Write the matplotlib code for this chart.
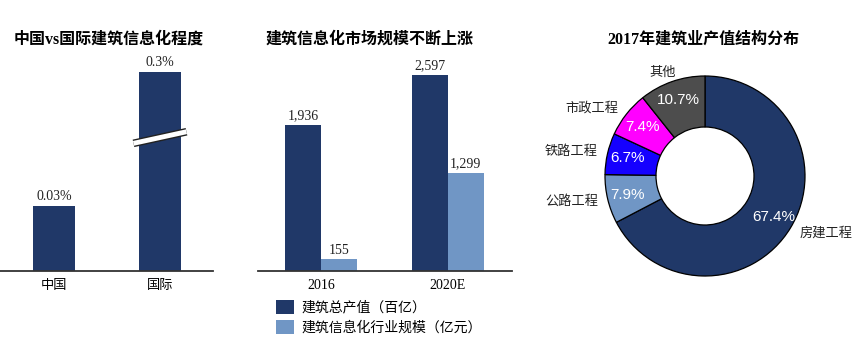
import numpy as np
import matplotlib
matplotlib.use("Agg")
import matplotlib.pyplot as plt

# ---- data ----
level_cats = ["中国", "国际"]
level_vals = [0.03, 0.3]              # % 建筑信息化程度

market_years = ["2016", "2020E"]
output_vals = [1936, 2597]            # 建筑总产值（百亿）
it_vals = [155, 1299]                 # 建筑信息化行业规模（亿元）
market_names = ["建筑总产值（百亿）", "建筑信息化行业规模（亿元）"]

pie_names = ["房建工程", "公路工程", "铁路工程", "市政工程", "其他"]
pie_vals = [67.4, 7.9, 6.7, 7.4, 10.7]

NAVY = "#203868"
LIGHT = "#7096c5"
pie_colors = [NAVY, LIGHT, "#1500ff", "#ff00ff", "#4d4d4d"]

CJK = ["Noto Sans CJK SC", "DejaVu Sans"]
TITLE_FONT = ["Liberation Serif", "Noto Sans CJK SC"]
NUM_FONT = "Liberation Serif"
plt.rcParams["font.family"] = CJK

W, H = 864, 352
fig = plt.figure(figsize=(W / 100, H / 100), dpi=100)


def px_axes(left, top, width, height):
    return fig.add_axes([left / W, (H - top - height) / H, width / W, height / H])


# ---- panel 1: broken bar chart ----
BREAK = 0.06
K = 0.1326


def fwd(v):
    v = np.asarray(v, dtype=float)
    return np.where(v <= BREAK, v, BREAK + (v - BREAK) * K)


def inv(f):
    f = np.asarray(f, dtype=float)
    return np.where(f <= BREAK, f, BREAK + (f - BREAK) / K)


ax1 = px_axes(0, 60, 213, 211)
ax1.set_yscale("function", functions=(fwd, inv))
x1 = np.arange(len(level_cats))
bars1 = ax1.bar(x1, level_vals, width=0.396, color=NAVY)
ax1.bar_label(bars1, labels=[f"{v:g}%" for v in level_vals], padding=2,
              fontsize=10, family=NUM_FONT, color="#222222")
ax1.set_ylim(0, 0.342)
ax1.set_xlim(-0.509, 1.5)
# break marker on the tall bar
tr = ax1.get_xaxis_transform()
bx = [x1[1] - 0.25, x1[1] + 0.25]
by = [0.605, 0.66]
ax1.plot(bx, by, color="#222222", lw=5.5, transform=tr, solid_capstyle="butt", clip_on=False)
ax1.plot(bx, by, color="white", lw=3.5, transform=tr, solid_capstyle="butt", clip_on=False)
ax1.set_xticks(x1, level_cats, fontsize=9.5)
ax1.set_yticks([])
ax1.tick_params(axis="x", length=0, pad=6)
for s in ["top", "left", "right"]:
    ax1.spines[s].set_visible(False)
ax1.spines["bottom"].set_color("#333333")
ax1.spines["bottom"].set_linewidth(1.3)
fig.text(109 / W, 1 - 40 / H, "中国vs国际建筑信息化程度", ha="center", va="center",
         fontsize=11.5, fontweight="bold", family=TITLE_FONT)

# ---- panel 2: grouped bars ----
ax2 = px_axes(258, 60, 254, 211)
x2 = np.arange(len(market_years))
bw = 0.28
b_out = ax2.bar(x2 - bw / 2, output_vals, width=bw, color=NAVY, label=market_names[0])
b_it = ax2.bar(x2 + bw / 2, it_vals, width=bw, color=LIGHT, label=market_names[1])
for b in (b_out, b_it):
    ax2.bar_label(b, fmt="{:,.0f}", padding=2, fontsize=10, family=NUM_FONT, color="#222222")
ax2.set_ylim(0, 2791)
ax2.set_xlim(-0.496, 1.504)
ax2.set_xticks(x2, market_years, fontsize=10, family=NUM_FONT)
ax2.set_yticks([])
ax2.tick_params(axis="x", length=0, pad=6)
for s in ["top", "left", "right"]:
    ax2.spines[s].set_visible(False)
ax2.spines["bottom"].set_color("#333333")
ax2.spines["bottom"].set_linewidth(1.3)
fig.text(370 / W, 1 - 40 / H, "建筑信息化市场规模不断上涨", ha="center", va="center",
         fontsize=11.5, fontweight="bold", family=TITLE_FONT)
fig.legend(handles=[b_out, b_it], loc="upper left",
           bbox_to_anchor=(276 / W, 1 - 300 / H), frameon=False, fontsize=10,
           handlelength=1.3, handleheight=1.15, handletextpad=0.5,
           labelspacing=0.4, borderpad=0, borderaxespad=0)

# ---- panel 3: donut ----
ax3 = px_axes(705 - 140, 176 - 140, 280, 280)
wedges, texts = ax3.pie(pie_vals, labels=pie_names, colors=pie_colors, startangle=90,
                        counterclock=False, radius=1.0, labeldistance=1.1,
                        wedgeprops=dict(width=0.51, edgecolor="black", linewidth=0.9),
                        textprops=dict(fontsize=9.5, color="#222222"))
texts[-1].set_ha("center")
texts[-1].set_x(texts[-1].get_position()[0] - 0.06)
for w, v in zip(wedges, pie_vals):
    ang = np.deg2rad((w.theta1 + w.theta2) / 2)
    ax3.text(0.8 * np.cos(ang), 0.8 * np.sin(ang), f"{v}%", ha="center", va="center",
             color="white", fontsize=11, family="Liberation Sans")
ax3.set_xlim(-1.4, 1.4)
ax3.set_ylim(-1.4, 1.4)
ax3.set_aspect("equal")
fig.text(703 / W, 1 - 40 / H, "2017年建筑业产值结构分布", ha="center", va="center",
         fontsize=11.5, fontweight="bold", family=TITLE_FONT)

fig.savefig("out.png", dpi=100)
